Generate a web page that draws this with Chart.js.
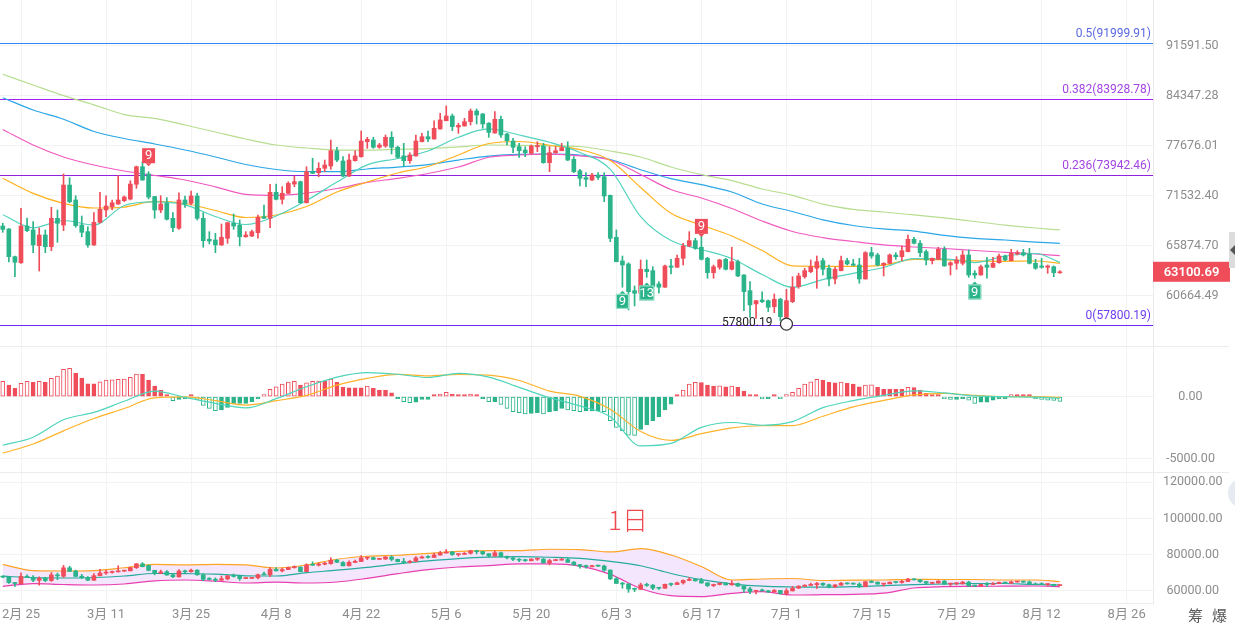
<!DOCTYPE html>
<html>
<head>
<meta charset="utf-8">
<script src="https://cdn.jsdelivr.net/npm/chart.js@4.4.1/dist/chart.umd.min.js"></script>
<style>
  body { margin: 0; background: #fff; width: 1235px; height: 628px; overflow: hidden; position: relative; font-family: Roboto, "Noto Sans CJK SC", sans-serif; }
  canvas { position: absolute; left: 0; }
  #main { top: 0; }
  #macd { top: 346px; }
  #boll { top: 472px; }
  .sep { position: absolute; left: 0; width: 1229px; height: 1px; background: #ececec; }
  #period { position: absolute; left: 608px; top: 502px; font-size: 26px; color: #f0494f; font-family: "Noto Sans CJK SC", sans-serif; font-weight: 300; line-height: 34px; }
  .tool { position: absolute; top: 605px; font-size: 15px; color: #555; font-family: "Noto Sans CJK SC", sans-serif; line-height: 20px; }
  #tab { position: absolute; left: 1229px; top: 232px; width: 6px; height: 36px; background: #dcdcdc; }
  #tab::after { content: ""; position: absolute; left: 1px; top: 13px; border-style: solid; border-width: 5px 5px 5px 0; border-color: transparent #555 transparent transparent; }
  #bubble { position: absolute; left: 1228px; top: 478px; width: 30px; height: 30px; border-radius: 50%; background: #e5ebf0; }
</style>
</head>
<body>
<canvas id="main" width="1235" height="346"></canvas>
<canvas id="macd" width="1235" height="126"></canvas>
<canvas id="boll" width="1235" height="156"></canvas>
<div class="sep" style="top:346px"></div>
<div class="sep" style="top:472px"></div>
<div id="period">1日</div>
<div class="tool" style="left:1188px">筹</div>
<div class="tool" style="left:1212px">爆</div>
<div id="tab"></div>
<div id="bubble"></div>
<script>
// x axis: day offsets from 2月25
const tickDays = [0, 14, 28, 42, 56, 70, 84, 98, 112, 126, 140, 154, 168, 182];
const tickLabels = ['2月 25', '3月 11', '3月 25', '4月 8', '4月 22', '5月 6', '5月 20', '6月 3', '6月 17', '7月 1', '7月 15', '7月 29', '8月 12', '8月 26'];
const firstDay = -3;

// daily candles
const opens = [68040, 67710, 64690, 64050, 68040, 67600, 65870, 67040, 65760, 68910, 68150, 72790, 71020,
  68150, 67410, 65950, 68460, 69860, 70240, 70550, 70940, 71130, 72880,
  75020, 74120, 71420, 69860, 70630, 68910, 67790, 71020, 70630, 71490,
  68910, 66570, 66490, 65950, 66680, 68350, 68150, 66850, 66930, 67300,
  69090, 68910, 71920, 71100, 71800, 72910, 73190, 70700, 74410, 74290,
  74820, 75110, 77020, 75730, 73880, 75770, 76270, 78170, 78390, 77460,
  77620, 78740, 77460, 76360, 75770, 76360, 78170, 78820, 78520, 79830,
  80920, 81550, 80090, 80220, 80800, 82230, 81820, 80590, 79300, 81110,
  79170, 78260, 77540, 77110, 76690, 77540, 77620, 75520, 76770, 77020,
  77330, 75940, 74530, 73680, 73400, 74000, 73800, 71570, 66790, 64230,
  63920, 61170, 60910, 63360, 63220, 61850, 61520, 63710, 63570, 64520,
  65840, 66420, 65700, 64520, 63010, 63570, 64410, 63360, 64160, 62770,
  61170, 59850, 60240, 60170, 59580, 60310, 58550, 60070, 61580, 62590,
  63110, 63470, 64270, 63470, 62360, 63220, 64270, 63920, 63810, 62360,
  65120, 64870, 63810, 63990, 64870, 64690, 65230, 66570, 66130, 65230,
  64270, 64410, 65480, 63810, 63990, 63990, 64870, 62950, 62770, 63810,
  63570, 64050, 64760, 64270, 64980, 65120, 64980, 63990, 63710, 63570,
  63630, 62990];
const highs = [68350, 67750, 64760, 70050, 68940, 68530, 67820, 67600, 70170, 69860, 74130, 73670, 71520,
  69170, 67960, 69550, 71920, 71520, 71020, 73920, 71490, 73310, 75100,
  75640, 74410, 71450, 71520, 71300, 69550, 71870, 71490, 72080, 71810,
  69550, 67410, 67230, 68270, 68480, 69400, 68720, 67410, 67600, 69290,
  70440, 72880, 72910, 72600, 73190, 73880, 73270, 75020, 76080, 75520,
  75850, 78390, 77460, 76280, 76610, 77020, 79560, 78740, 78740, 77970,
  79040, 79470, 77620, 77960, 76770, 79040, 79260, 79560, 80920, 81920,
  82910, 81820, 80580, 81240, 82500, 82500, 81920, 80670, 82140, 81550,
  79260, 78610, 77960, 77530, 77750, 78170, 77960, 77540, 77540, 77960,
  78170, 76270, 74700, 74290, 74210, 74290, 74290, 71600, 67600, 64760,
  64050, 61650, 64340, 64340, 63630, 62090, 63810, 64410, 64870, 66130,
  67410, 66680, 67040, 64620, 63810, 64410, 64520, 65700, 64340, 62800,
  62090, 60200, 61040, 60240, 60840, 60410, 61310, 62590, 62950, 63470,
  64340, 64760, 64520, 63810, 63570, 64760, 64520, 64410, 64520, 65230,
  65700, 65050, 64050, 64980, 65120, 65840, 67040, 66790, 66420, 65410,
  64550, 65700, 65760, 64160, 64690, 65330, 65410, 63220, 63810, 64620,
  64620, 64980, 64870, 65480, 65330, 65480, 65590, 64410, 64520, 63810,
  63710, 63220];
const lows = [67340, 64130, 62590, 63980, 67410, 65120, 63180, 65120, 65330, 66240, 67520, 70700, 67900,
  66850, 65700, 65900, 68350, 69090, 69860, 70500, 70820, 71020, 72400,
  73350, 71140, 68910, 69550, 68720, 67410, 67670, 70170, 70440, 68720,
  65700, 66060, 65120, 65890, 66130, 67670, 65840, 66790, 66850, 66680,
  68880, 67850, 71020, 70550, 71780, 72590, 70630, 70660, 74170, 73800,
  74410, 74700, 75640, 73800, 73800, 75700, 76200, 77330, 77330, 77330,
  77460, 76610, 76070, 75110, 75440, 76320, 78160, 78170, 78500, 79800,
  80910, 79610, 79260, 80210, 80350, 80490, 79920, 78740, 79280, 78740,
  77750, 76770, 76190, 76270, 76610, 76900, 75440, 74410, 76690, 77010,
  75770, 74290, 72670, 72590, 73310, 73480, 70820, 66310, 64140, 61520,
  59260, 59650, 60890, 62530, 60740, 60910, 61500, 62870, 63550, 63810,
  65760, 65480, 64340, 62430, 62430, 63360, 63290, 63290, 62590, 59190,
  58530, 58440, 59980, 59100, 59000, 58230, 57800.19, 59980, 61410, 62430,
  63010, 61410, 62770, 61650, 61850, 63190, 63810, 63710, 61920, 62340,
  64520, 63710, 62670, 63920, 64410, 64270, 65210, 66060, 64690, 63810,
  63920, 64390, 63680, 62770, 63360, 63810, 62530, 62430, 62750, 62430,
  63550, 63990, 64270, 64250, 64870, 64760, 63920, 63360, 63470, 62950,
  62590, 62950];
const closes = [67670, 64690, 64100, 68040, 67520, 65950, 67040, 65760, 68910, 68350, 72790, 70820, 68080,
  67340, 65950, 68460, 69940, 70320, 70700, 71020, 71370, 72910, 75020,
  73400, 71370, 69860, 70550, 68800, 67850, 71020, 70550, 71490, 68910,
  66420, 66380, 65950, 66790, 68410, 68040, 66850, 67040, 67410, 69020,
  68910, 71920, 71100, 71800, 73000, 73190, 70700, 74410, 74210, 74820,
  75230, 77020, 75850, 73880, 75850, 76360, 78260, 78480, 77460, 77750,
  78740, 77460, 76190, 75770, 76480, 78260, 78820, 78520, 79920, 81020,
  81550, 80140, 80310, 80800, 82230, 81690, 80490, 79380, 81110, 79040,
  78300, 77460, 77020, 76770, 77620, 77620, 75520, 76770, 77020, 77410,
  75850, 74410, 73600, 73480, 74000, 73720, 71490, 66680, 64160, 63810,
  61070, 60910, 63360, 63110, 61580, 61520, 63710, 63570, 64520, 65840,
  66420, 65590, 64410, 63010, 63630, 64340, 63360, 64160, 62670, 61070,
  59750, 60170, 60070, 59520, 60310, 58610, 60170, 61520, 62670, 63220,
  63630, 64160, 63360, 62360, 63360, 64270, 63920, 63780, 62360, 65120,
  64760, 63810, 63990, 64870, 64690, 65330, 66570, 66130, 65120, 64340,
  64520, 65480, 63710, 64050, 64340, 64870, 62770, 62770, 63630, 63570,
  63990, 64760, 64340, 65050, 65120, 64870, 63990, 63470, 63570, 63710,
  63010, 63100.69];

// moving averages, read every 5 days
const lineDays = [-3, 2, 7, 12, 17, 22, 27, 32, 37, 42, 47, 52, 57, 62, 67, 72, 77, 82, 87, 92, 97, 102, 107, 112, 117, 122, 127, 132, 137, 142, 147, 152, 157, 162, 167, 171];
const maTeal = [69320, 67840, 68660, 68150, 70380, 70790, 70460, 69110, 68210, 69170, 70960, 73150, 75250, 76040, 76990, 78750, 79830, 79040, 78100, 76800, 74700, 69100, 66430, 65460, 64490, 62820, 61510, 62300, 62930, 63550, 64480, 64460, 64070, 64760, 65030, 64090];
const maOrange = [73600, 71800, 70630, 70090, 70200, 70850, 70610, 69800, 69000, 69285, 70260, 71960, 73150, 74250, 75050, 76480, 77940, 78200, 77720, 77170, 75790, 72500, 69480, 68150, 66930, 65350, 63710, 63660, 63660, 63790, 64410, 64360, 64250, 64200, 64230, 63990];
const maPink = [79760, 77750, 76230, 75230, 74490, 73940, 73400, 72580, 71680, 71550, 71840, 72380, 73100, 73600, 74190, 74980, 76200, 76480, 76580, 76380, 75850, 74060, 72250, 71250, 70030, 68600, 67430, 66760, 66330, 65950, 65730, 65570, 65350, 65160, 64980, 64800];
const maBlue = [84050, 82360, 81120, 79500, 78590, 77880, 77110, 76230, 75290, 74680, 74410, 74410, 74740, 74980, 75290, 75850, 76350, 76570, 76590, 76480, 75920, 74650, 73560, 72830, 71960, 70550, 69690, 68740, 68100, 67710, 67480, 66990, 66660, 66490, 66270, 66130];
const maGreen = [87350, 85820, 84330, 83070, 81750, 81240, 80350, 79430, 78520, 77750, 77370, 77110, 77110, 77200, 77300, 77520, 77750, 77710, 77650, 77560, 76990, 76230, 74980, 74040, 73330, 72320, 71570, 70530, 69920, 69630, 69290, 68950, 68550, 68150, 67820, 67600];

// MACD
const macdHist = [1230, 936, 670, 1070, 1230, 1150, 1230, 1150, 1470, 1660, 2190, 2270, 1900,
  1500, 1040, 1030, 1200, 1340, 1350, 1390, 1420, 1550, 1820,
  1800, 1340, 860, 535, 130, -320, -215, -130, 130, -215,
  -700, -940, -1120, -1070, -860, -535, -530, -530, -400, -55,
  130, 590, 800, 1015, 1180, 1230, 940, 1120, 1230, 1250,
  1230, 1420, 1150, 750, 720, 720, 720, 860, 670, 535,
  535, 320, -55, -400, -480, -430, -215, -215, 55, 215,
  350, 190, 110, 110, 215, 110, -55, -400, -400, -615,
  -940, -1200, -1280, -1390, -1340, -1280, -1390, -1200, -1150, -940,
  -1070, -1120, -1200, -1150, -1150, -1150, -1200, -1930, -2460, -2730,
  -3080, -3100, -2620, -2270, -1930, -1600, -1070, -590, 55, 535,
  1015, 1150, 1140, 940, 860, 880, 800, 860, 750, 455,
  130, 55, -80, -80, 55, -100, 110, 350, 670, 1015,
  1200, 1390, 1340, 1150, 1120, 1180, 1070, 1015, 800, 940,
  950, 750, 590, 590, 590, 590, 750, 740, 535, 270,
  130, 110, -130, -215, -215, -160, -270, -535, -430, -430,
  -270, -110, -55, 110, 110, 110, 80, -110, -215, -270,
  -300, -375];
const macdDif = [-3900, -3250, -1850, -1260, -370, 450, -50, -530, -900, -160, 800, 1570, 1930, 1800, 1540, 1870, 1570, 750, -80, -740, -1610, -3950, -3750, -2460, -2070, -2290, -2000, -880, -320, 100, 470, 300, 60, 0, -40, -130];
const macdDea = [-4530, -3800, -2740, -1750, -950, -90, -20, -320, -670, -320, 100, 930, 1470, 1790, 1670, 1780, 1730, 1300, 450, 30, -1000, -2800, -3510, -2970, -2510, -2330, -2320, -1570, -820, -300, 140, 270, 100, 0, 0, -55];

// Bollinger bands
const bollUpper = [74700, 71270, 71050, 71300, 72820, 74650, 74370, 74650, 74370, 72700, 74370, 77510, 79170, 79720, 80720, 81820, 82260, 82260, 83040, 82870, 81550, 83370, 79870, 73520, 66070, 66620, 66900, 65800, 65960, 66070, 66460, 66350, 66350, 66070, 66070, 65240];
const bollMid = [68180, 67350, 67180, 67460, 68290, 69670, 69560, 69340, 68400, 68290, 70110, 71490, 73040, 74920, 76580, 77900, 78680, 78950, 78620, 77960, 76300, 73930, 69670, 66240, 63980, 62650, 62210, 62100, 62380, 62980, 63480, 63870, 64140, 64140, 63590, 63310];
const bollLower = [62600, 64090, 63590, 63310, 63870, 65630, 66070, 65410, 64420, 64920, 64420, 64970, 67010, 69560, 71820, 73260, 74030, 74920, 74920, 73760, 69170, 61380, 57400, 56910, 58680, 59670, 57790, 57960, 58180, 58790, 61660, 62380, 62540, 62650, 62760, 62380];

// axis ticks
const priceTicks = [91591.50, 84347.28, 77676.01, 71532.40, 65874.70, 60664.49];
const macdTicks = [0, -5000];
const bollTicks = [120000, 100000, 80000, 60000];

// fibonacci levels
const fibLevels = ['0.5', '0.382', '0.236', '0'];
const fibPrices = [91999.91, 83928.78, 73942.46, 57800.19];
const fibLineColors = ['#2f86f0', '#a31ff0', '#9020e0', '#6f25f5'];
const fibTextColors = ['#5a68e0', '#a344e4', '#a344e4', '#6e3ef0'];

// markers
const lowDay = 126, lowPrice = 57800.19;
const lastPrice = 63100.69;
const tdDays = [21, 112, 99, 103, 157];
const tdPrices = [76390, 68000, 60100, 60940, 61040];
const tdText = ['9', '9', '9', '13', '9'];
const tdSell = [true, true, false, false, false];

const RED = '#ef4d5a', GREEN = '#2bb38a';
Chart.defaults.font.family = "Roboto, 'Noto Sans CJK SC', sans-serif";
Chart.defaults.animation = false;
Chart.defaults.events = [];
Chart.defaults.plugins.legend.display = false;
Chart.defaults.plugins.tooltip.enabled = false;

const days = opens.map((_, i) => firstDay + i);
const candleColors = closes.map((c, i) => c >= opens[i] ? RED : GREEN);

// plot area spans 0..1153 px, 2月25 sits at 21 px, 6.075 px per day
const X_MIN = -21 / 6.075, X_MAX = X_MIN + 1153 / 6.075;

function xAxis(labels) {
  return {
    type: 'linear', min: X_MIN, max: X_MAX, offset: false,
    afterBuildTicks: s => { s.ticks = tickDays.map(v => ({ value: v })); },
    afterFit: s => { s.height = labels ? 25 : 0; s.paddingLeft = 0; s.paddingRight = 0; },
    ticks: { display: labels, autoSkip: false, maxRotation: 0, padding: 4, color: '#8d8d8d', font: { size: 13 },
      callback: v => tickLabels[tickDays.indexOf(v)] },
    grid: { color: '#f3f3f3', drawTicks: false, offset: false },
    border: { display: labels, color: '#ececec' }
  };
}

function yAxis(type, min, max, ticksArr, padding) {
  return {
    type, position: 'right', min, max,
    afterBuildTicks: s => { s.ticks = ticksArr.map(v => ({ value: v })); },
    afterFit: s => { s.width = 76; s.paddingTop = 0; s.paddingBottom = 0; },
    ticks: { autoSkip: false, crossAlign: 'center', padding, color: '#8d8d8d', font: { size: 12.5 },
      callback: v => Number(v).toFixed(2) },
    grid: { color: '#f2f2f2', drawTicks: false },
    border: { display: true, color: '#ebebeb' }
  };
}

function candleSets(order) {
  return [
    { type: 'bar', data: days.map((d, i) => ({ x: d, y: [lows[i], highs[i]] })),
      backgroundColor: candleColors, barThickness: 1, grouped: false, order: order + 1 },
    { type: 'bar', data: days.map((d, i) => ({ x: d, y: [opens[i], closes[i]] })),
      backgroundColor: candleColors, barThickness: 4, minBarLength: 1, grouped: false, order: order }
  ];
}

function lineSet(vals, color, order, extra) {
  return Object.assign({ type: 'line', data: lineDays.map((d, i) => ({ x: d, y: vals[i] })),
    borderColor: color, borderWidth: 1.2, pointRadius: 0, cubicInterpolationMode: 'monotone',
    fill: false, order }, extra || {});
}

const baseOptions = {
  responsive: false, maintainAspectRatio: false,
  layout: { padding: { left: 0, right: 6, top: 0, bottom: 0 } }
};

// ---- main price panel
const fibPlugin = {
  id: 'fib',
  beforeDatasetsDraw(chart) {
    const { ctx, chartArea, scales: { y } } = chart;
    ctx.save();
    ctx.font = "12px Roboto, sans-serif";
    ctx.textAlign = 'right';
    ctx.textBaseline = 'bottom';
    fibPrices.forEach((p, i) => {
      const py = Math.round(y.getPixelForValue(p));
      ctx.fillStyle = fibLineColors[i];
      ctx.fillRect(chartArea.left, py, chartArea.right - chartArea.left, 1);
      ctx.fillStyle = fibTextColors[i];
      ctx.fillText(fibLevels[i] + '(' + p.toFixed(2) + ')', chartArea.right - 2, py - 3);
    });
    ctx.restore();
  }
};

const markPlugin = {
  id: 'marks',
  afterDatasetsDraw(chart) {
    const { ctx, scales: { x, y } } = chart;
    ctx.save();
    // TD sequence boxes
    ctx.textAlign = 'center';
    ctx.textBaseline = 'middle';
    ctx.font = "13px Roboto, sans-serif";
    tdDays.forEach((d, i) => {
      const cx = x.getPixelForValue(d), cy = y.getPixelForValue(tdPrices[i]);
      const w = tdText[i].length > 1 ? 15 : 13, h = 15;
      ctx.fillStyle = tdSell[i] ? RED : GREEN;
      ctx.fillRect(cx - w / 2, cy - h / 2, w, h);
      ctx.beginPath();
      if (tdSell[i]) {
        ctx.moveTo(cx - 3, cy + h / 2); ctx.lineTo(cx + 3, cy + h / 2); ctx.lineTo(cx, cy + h / 2 + 3);
      } else {
        ctx.moveTo(cx - 3, cy - h / 2); ctx.lineTo(cx + 3, cy - h / 2); ctx.lineTo(cx, cy - h / 2 - 3);
      }
      ctx.fill();
      if (!tdSell[i]) {
        ctx.strokeStyle = '#a6e6cf';
        ctx.lineWidth = 1;
        ctx.strokeRect(cx - w / 2 + 0.5, cy - h / 2 + 0.5, w - 1, h - 1);
      }
      ctx.fillStyle = '#fff';
      ctx.fillText(tdText[i], cx, cy + 0.5);
    });
    // lowest point
    const lx = x.getPixelForValue(lowDay), ly = y.getPixelForValue(lowPrice);
    ctx.beginPath();
    ctx.arc(lx, ly - 1, 6, 0, Math.PI * 2);
    ctx.fillStyle = '#fff';
    ctx.fill();
    ctx.strokeStyle = '#333';
    ctx.lineWidth = 1.2;
    ctx.stroke();
    ctx.fillStyle = '#222';
    ctx.font = "12px Roboto, sans-serif";
    ctx.textAlign = 'right';
    ctx.fillText(lowPrice.toFixed(2), lx - 14, ly - 2);
    ctx.restore();
  },
  afterDraw(chart) {
    const { ctx, chartArea, scales: { y } } = chart;
    const py = y.getPixelForValue(lastPrice);
    ctx.save();
    ctx.fillStyle = RED;
    ctx.fillRect(chartArea.right, py - 10, 77, 20);
    ctx.fillStyle = '#fff';
    ctx.font = "600 13px Roboto, sans-serif";
    ctx.textAlign = 'center';
    ctx.textBaseline = 'middle';
    ctx.fillText(lastPrice.toFixed(2), chartArea.right + 38.5, py + 0.5);
    ctx.restore();
  }
};

new Chart(document.getElementById('main'), {
  type: 'bar',
  data: {
    datasets: [
      ...candleSets(0),
      lineSet(maTeal, '#52d3bd', 2),
      lineSet(maOrange, '#ffb21f', 3),
      lineSet(maPink, '#f05bc0', 4),
      lineSet(maBlue, '#2aa7e6', 5),
      lineSet(maGreen, '#b7de90', 6)
    ]
  },
  options: Object.assign({}, baseOptions, {
    scales: {
      x: xAxis(false),
      y: yAxis('logarithmic', 55842, 98719, priceTicks, 13)
    }
  }),
  plugins: [fibPlugin, markPlugin]
});

// ---- MACD panel
const histColors = macdHist.map(v => v >= 0 ? RED : GREEN);
const histFill = macdHist.map((v, i) =>
  i > 0 && Math.abs(v) <= Math.abs(macdHist[i - 1]) ? histColors[i] : '#ffffff');

new Chart(document.getElementById('macd'), {
  type: 'bar',
  data: {
    datasets: [
      { type: 'bar', data: days.map((d, i) => ({ x: d, y: macdHist[i] })),
        backgroundColor: histFill, borderColor: histColors, borderWidth: 1, borderSkipped: false,
        barThickness: 4, minBarLength: 2, grouped: false, order: 3 },
      lineSet(macdDif, '#4fd5bb', 1),
      lineSet(macdDea, '#ffb32a', 2)
    ]
  },
  options: Object.assign({}, baseOptions, {
    scales: {
      x: xAxis(false),
      y: yAxis('linear', -6044, 4069, macdTicks, 13)
    }
  })
});

// ---- Bollinger panel
new Chart(document.getElementById('boll'), {
  type: 'bar',
  data: {
    datasets: [
      lineSet(bollUpper, '#ffa424', 2),
      lineSet(bollMid, '#25ab9e', 2),
      lineSet(bollLower, '#e83fb0', 2, { fill: 0, backgroundColor: '#f4e6fc' }),
      ...candleSets(0)
    ]
  },
  options: Object.assign({}, baseOptions, {
    plugins: { filler: { drawTime: 'beforeDatasetsDraw' } },
    scales: {
      x: xAxis(true),
      y: yAxis('linear', 53376, 125686, bollTicks, 10)
    }
  })
});
</script>
</body>
</html>
